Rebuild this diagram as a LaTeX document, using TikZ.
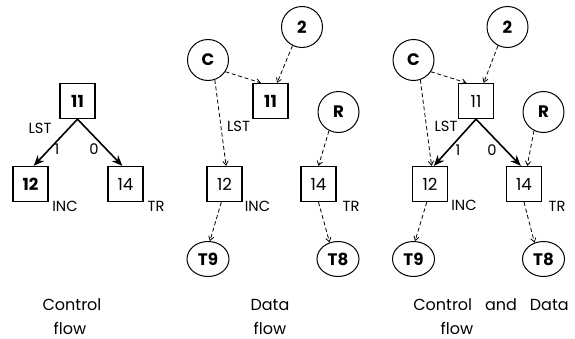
\documentclass[tikz,border=0pt]{standalone}
\usepackage{fontspec}
\setmainfont{Poppins}
\usetikzlibrary{arrows.meta,shapes.geometric}

\tikzset{every picture/.style={line width=0.75pt}}
\tikzset{
  blk/.style={draw, line width=1pt, minimum size=26.25pt, inner sep=0pt, font=\fontsize{12.5}{14}\selectfont},
  val/.style={draw, circle, minimum size=30.75pt, inner sep=0pt, font=\bfseries\fontsize{12.5}{14}\selectfont},
  tgt/.style={draw, ellipse, minimum width=31.5pt, minimum height=26.25pt, inner sep=0pt, font=\bfseries\fontsize{12.5}{14}\selectfont},
  lbl/.style={inner sep=0pt, font=\fontsize{11}{13}\selectfont},
  capline/.style={inner sep=0pt, font=\fontsize{12}{14}\selectfont},
  ctl/.style={line width=1.2pt, -{Stealth[length=8pt,width=6.5pt]}},
  dat/.style={line width=0.6pt, dash pattern=on 3pt off 2pt, -{Straight Barb[length=3pt,width=4pt]}},
}

\begin{document}
\begin{tikzpicture}[x=0.75pt,y=0.75pt,yscale=-1,xscale=1]

\useasboundingbox (0,0) rectangle (575,339);

% control flow
\node (b11l) at (77.5,101) [blk] {\bfseries 11};
\node (b12l) at (30.5,184) [blk] {\bfseries 12};
\node (b14l) at (125.5,184) [blk] {14};

\draw [ctl] (b11l.south) -- (b12l.80) ;
\draw [ctl] (b11l.south) -- (b14l.100) ;

\node (lstl) at (40,128) [lbl] {LST};
\node (incl) at (65,206.5) [lbl] {INC};
\node (trl) at (156,206.5) [lbl] {TR};
\node (onel) at (57,149) [lbl] {1};
\node (zerol) at (94,149) [lbl] {0};

% data flow
\node (cm) at (208,60) [val] {C};
\node (twom) at (302,27) [val] {2};
\node (rm) at (338.5,112) [val] {R};
\node (b11m) at (270.5,101) [blk] {\bfseries 11};
\node (b12m) at (224.5,184) [blk] {12};
\node (b14m) at (318.5,184) [blk] {14};
\node (t9m) at (208,259) [tgt] {T9};
\node (t8m) at (338,259) [tgt] {T8};

\draw [dat] (cm.-34) -- (b11m.118) ;
\draw [dat] (twom.-117) -- (b11m.70) ;
\draw [dat] (cm.-71) -- (b12m.85) ;
\draw [dat] (rm.-117) -- (b14m.north) ;
\draw [dat] (b12m.-100) -- (t9m.84) ;
\draw [dat] (b14m.south) -- (t8m.117) ;

\node (lstm) at (238.5,126) [lbl] {LST};
\node (incm) at (257.5,206.5) [lbl] {INC};
\node (trm) at (351,206.5) [lbl] {TR};

% control and data flow
\node (cr) at (413.5,60) [val] {C};
\node (twor) at (507.5,27) [val] {2};
\node (rr) at (543.5,112) [val] {R};
\node (b11r) at (476,101) [blk] {11};
\node (b12r) at (430,184) [blk] {12};
\node (b14r) at (524,184) [blk] {14};
\node (t9r) at (413.5,259) [tgt] {T9};
\node (t8r) at (543.5,259) [tgt] {T8};

\draw [ctl] (b11r.south) -- (b12r.78) ;
\draw [ctl] (b11r.south) -- (b14r.100) ;
\draw [dat] (cr.-34) -- (b11r.118) ;
\draw [dat] (twor.-117) -- (b11r.67) ;
\draw [dat] (cr.-71) -- (b12r.85) ;
\draw [dat] (rr.-117) -- (b14r.80) ;
\draw [dat] (b12r.-100) -- (t9r.85) ;
\draw [dat] (b14r.south) -- (t8r.119) ;

\node (lstr) at (446,126) [lbl] {LST};
\node (incr) at (464,205.5) [lbl] {INC};
\node (trr) at (557,206.5) [lbl] {TR};
\node (oner) at (458,150) [lbl] {1};
\node (zeror) at (492,150) [lbl] {0};

% captions
\node (ctll) at (72,305) [capline] {Control};
\node (flowl) at (70,328) [capline] {flow};
\node (datam) at (270,305) [capline] {Data};
\node (flowm) at (270,328) [capline] {flow};
\node (ctlr) at (491,305) [capline] {Control\hspace{6.5pt} and\hspace{6.5pt} Data};
\node (flowr) at (457,328) [capline] {flow};

\end{tikzpicture}
\end{document}
